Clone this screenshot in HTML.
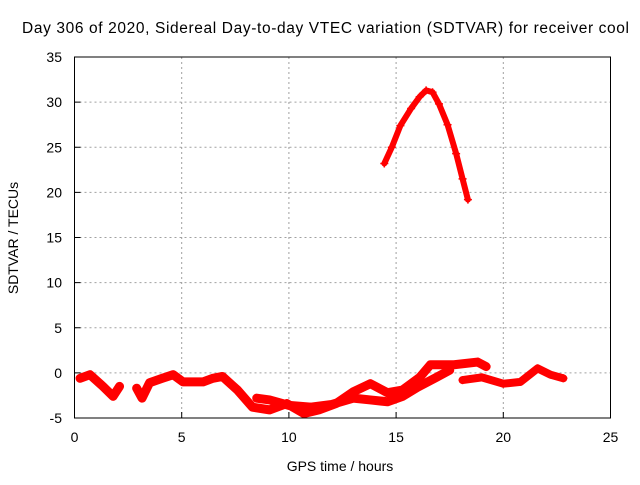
<!DOCTYPE html>
<html><head><meta charset="utf-8"><style>
body{margin:0;background:#fff;width:640px;height:480px;overflow:hidden}
text{font-family:"Liberation Sans",sans-serif;font-size:14px;fill:#000}
</style></head><body>
<svg id="chart" width="640" height="480">
<rect width="640" height="480" fill="#fff"/>
<g id="grid"></g><g id="series"></g>
<rect x="74.5" y="57" width="536" height="361" fill="none" stroke="#000" stroke-width="1"/>
<g id="axes"></g>
<text x="22" y="33" textLength="607" lengthAdjust="spacing" style="font-size:15.5px">Day 306 of 2020, Sidereal Day-to-day VTEC variation (SDTVAR) for receiver cool</text>
<text x="340" y="471" text-anchor="middle">GPS time / hours</text>
<text transform="translate(18,238) rotate(-90)" text-anchor="middle">SDTVAR / TECUs</text>
</svg>
<script>
const xTicks=[0,5,10,15,20,25];
const yTicks=[-5,0,5,10,15,20,25,30,35];
const arcT=[14.45,14.8,15.2,15.7,16.1,16.4,16.7,17.0,17.4,17.8,18.1,18.35];
const arcV=[23.2,25.0,27.4,29.3,30.6,31.3,31.1,29.8,27.5,24.3,21.5,19.2];
const lowT=[0.26,0.72,1.33,1.8,2.1,null,2.9,3.15,3.5,4.1,4.6,5.06,6.0,6.45,6.9,7.6,8.3,9.1,9.9,10.7,11.4,12.2,13.0,13.8,14.6,15.3,16.1,16.6,17.7,18.8,19.2];
const lowV=[-0.6,-0.2,-1.5,-2.6,-1.5,null,-1.7,-2.8,-1.1,-0.6,-0.2,-1.0,-1.0,-0.6,-0.4,-1.9,-3.8,-4.1,-3.4,-4.5,-4.1,-3.4,-2.1,-1.2,-2.2,-1.9,-0.5,0.9,0.9,1.2,0.7];
const strand2T=[8.5,9.1,10.0,11.0,12.0,13.0,13.8,14.6,15.3,16.0,16.8,17.5];
const strand2V=[-2.8,-3.0,-3.6,-3.8,-3.5,-2.8,-3.0,-3.2,-2.6,-1.6,-0.6,0.3];
const strand3T=[18.1,19.0,20.0,20.8,21.6,22.2,22.8];
const strand3V=[-0.8,-0.5,-1.2,-1.0,0.5,-0.2,-0.6];
const X=t=>74.5+t*(536/25), Y=v=>418-(v+5)*(361/40);
const NS="http://www.w3.org/2000/svg";
const grid=document.getElementById('grid'),axes=document.getElementById('axes'),ser=document.getElementById('series');
function mk(tag,a,p){const e=document.createElementNS(NS,tag);for(const k in a)e.setAttribute(k,a[k]);p.appendChild(e);return e;}
xTicks.forEach(t=>{const x=X(t);
 if(t>0&&t<25){const g=mk('line',{x1:x,x2:x,y1:57,y2:418,stroke:'#a0a0a0','stroke-dasharray':'2,3'},grid);
 
 }
 const l=mk('line',{x1:x,x2:x,y1:418,y2:412,stroke:'#000'},axes);
 
 
 const s=mk('text',{x:x,y:442,'text-anchor':'middle'},axes);s.textContent=t;
 
 });
yTicks.forEach(v=>{const y=Y(v);
 if(v>-5&&v<35){const g=mk('line',{x1:74.5,x2:610.5,y1:y,y2:y,stroke:'#a0a0a0','stroke-dasharray':'2,3'},grid);
 
 }
 const l=mk('line',{x1:74.5,x2:80.5,y1:y,y2:y,stroke:'#000'},axes);
 
 
 const s=mk('text',{x:62,y:y+5,'text-anchor':'end'},axes);s.textContent=v;
 
 });
function draw(T,V,name,w){let segs=[[]];T.forEach((t,i)=>{if(t===null){segs.push([]);}else segs[segs.length-1].push([X(t),Y(V[i])]);});
 segs.forEach(s=>{if(!s.length)return;
  const p=mk('polyline',{points:s.map(q=>q.join(',')).join(' '),fill:'none',stroke:'#f00','stroke-width':w,'stroke-linejoin':'round','stroke-linecap':'round'},ser);
  
  
  s.forEach(q=>{const m=mk('path',{d:`M${q[0]-4},${q[1]}h8M${q[0]},${q[1]-4}v8`,stroke:'#f00','stroke-width':1.5},ser);
   
   });});}
draw(arcT,arcV,'daytime-arc',6);
draw(lowT,lowV,'baseline-series',9);
draw(strand2T,strand2V,'baseline-lower-strand',9);
draw(strand3T,strand3V,'late-strand',8);
</script>
</body></html>
